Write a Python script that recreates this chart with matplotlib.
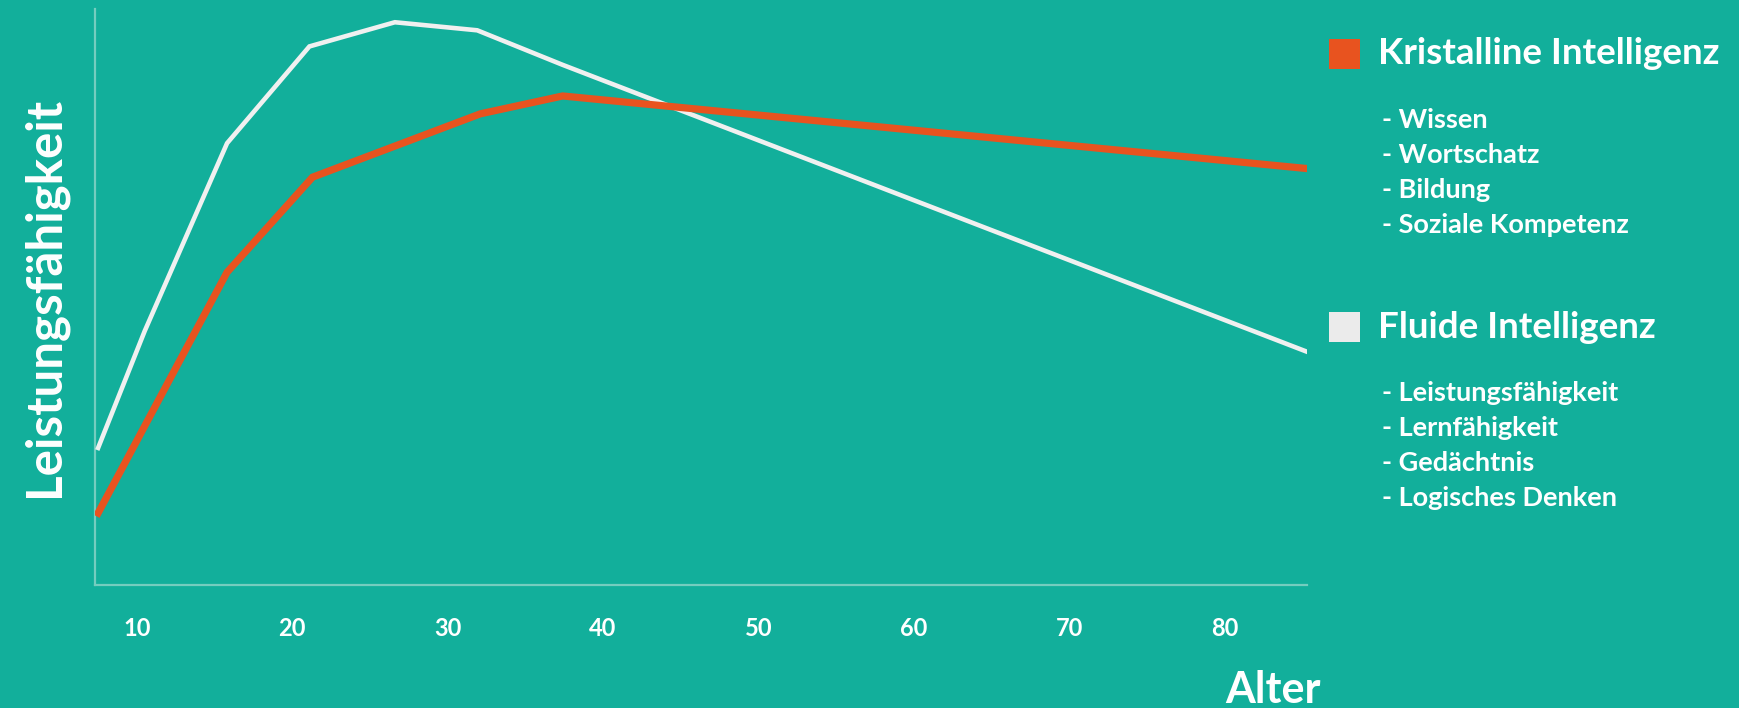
import matplotlib.pyplot as plt
from matplotlib.patches import Rectangle

# Alter (Jahre) und relative Leistungsfähigkeit (0-100)
alter_fluid = [7.5, 10.5, 15.8, 21.1, 26.6, 31.9, 37.4, 85.3]
fluid = [23.8, 44.1, 76.7, 93.5, 97.7, 96.3, 90.3, 40.5]

alter_krist = [7.5, 15.8, 21.3, 32.1, 37.4, 85.3]
kristallin = [12.5, 54.3, 70.8, 81.8, 84.9, 72.3]

x_ticks = [10, 20, 30, 40, 50, 60, 70, 80]

legend_groups = [
    ("Kristalline Intelligenz", "#e8531f",
     ["- Wissen", "- Wortschatz", "- Bildung", "- Soziale Kompetenz"]),
    ("Fluide Intelligenz", "#ebebeb",
     ["- Leistungsfähigkeit", "- Lernfähigkeit", "- Gedächtnis", "- Logisches Denken"]),
]

bg = "#12af9b"
spine_col = "#74cdbf"
plt.rcParams['font.family'] = ['Lato', 'DejaVu Sans']

fig = plt.figure(figsize=(17.4, 7.08), dpi=100, facecolor=bg)
ax = fig.add_axes([0.0546, 0.1737, 0.6965, 0.8136])
ax.set_facecolor(bg)

ax.plot(alter_fluid, fluid, color="#f0f0f0", lw=3.3, solid_joinstyle='miter', zorder=3)
ax.plot(alter_krist, kristallin, color="#e8531f", lw=5.2, solid_joinstyle='miter', zorder=4)

ax.set_xlim(7.3, 85.3)
ax.set_ylim(0, 100)
ax.set_xticks(x_ticks)
ax.set_xticklabels([str(t) for t in x_ticks])
ax.set_yticks([])
ax.tick_params(axis='x', length=0, pad=23, labelsize=17, labelcolor='white')
for lbl in ax.get_xticklabels():
    lbl.set_fontweight('bold')

for side in ('top', 'right'):
    ax.spines[side].set_visible(False)
for side in ('left', 'bottom'):
    ax.spines[side].set_color(spine_col)
    ax.spines[side].set_linewidth(1.6)

ax.set_ylabel("Leistungsfähigkeit", color='white', fontsize=35.5, fontweight='bold', labelpad=20)
fig.text(0.7317, 0.026, "Alter", color='white', fontsize=31, fontweight='bold',
         ha='center', va='center')

# Legende rechts mit Farbquadraten und Stichpunkten
W, H = 1740, 708
head_y = [54, 327]
for (title, col, items), hy in zip(legend_groups, head_y):
    fig.patches.append(Rectangle((1329 / W, (H - hy - 15) / H), 31 / W, 30 / H,
                                 transform=fig.transFigure, facecolor=col,
                                 edgecolor='none'))
    fig.text(1378 / W, (H - hy) / H, title, color='white', fontsize=26.5,
             fontweight='bold', va='center', ha='left')
    for i, item in enumerate(items):
        y = hy + 66 + i * 35
        fig.text(1382 / W, (H - y) / H, item, color='white', fontsize=19.5,
                 fontweight='bold', va='center', ha='left')

fig.savefig("out.png", dpi=100, facecolor=bg)
